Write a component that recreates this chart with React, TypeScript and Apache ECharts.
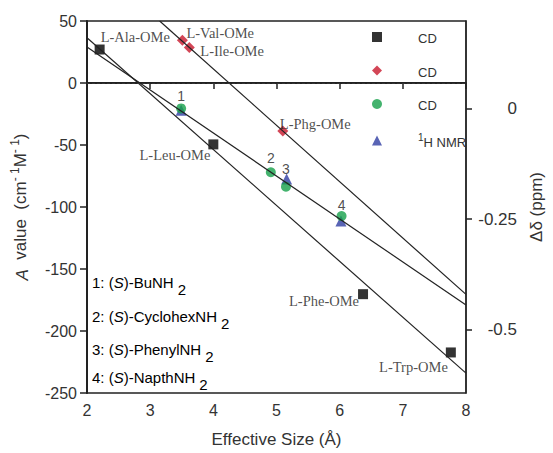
import React, { useEffect, useRef } from "react";
import * as echarts from "echarts";

// ---- data ----
const blackNames = ["L-Ala-OMe", "L-Leu-OMe", "L-Phe-OMe", "L-Trp-OMe"];
const blackX = [2.2, 4.0, 6.37, 7.76];
const blackY = [27, -49.5, -170.3, -217.3];

const redNames = ["L-Val-OMe", "L-Ile-OMe", "L-Phg-OMe"];
const redX = [3.51, 3.62, 5.1];
const redY = [34.5, 28.6, -38.8];

const greenNames = ["1", "2", "3", "4"];
const greenX = [3.49, 4.91, 5.15, 6.03];
const greenY = [-20.5, -72, -83.7, -107.3];

const nmrX = [3.49, 5.16, 6.02];
const nmrDelta = [-0.004, -0.159, -0.254];

// fitted straight lines: [x, y] end points
const fitRed = [[3.15, 50], [8, -170.5]];
const fitGreen = [[2, 29], [8, -179]];
const fitBlack = [[2, 36.5], [8, -234]];

const xTicks = [2, 3, 4, 5, 6, 7, 8];
const rightTicks = [0, -0.25, -0.5];
const amines = ["1: ", "2: ", "3: ", "4: "];
const amineNames = ["BuNH", "CyclohexNH", "PhenylNH", "NapthNH"];

// ---- layout/styling (not data) ----
const blackLabelPos = [
  { align: "left", offset: [1, -13] },
  { align: "right", offset: [-3, 11] },
  { align: "right", offset: [-4, 7] },
  { align: "right", offset: [-3, 15] },
];
const redLabelPos = [
  { align: "left", offset: [4, -7] },
  { align: "left", offset: [11, 3] },
  { align: "left", offset: [-3, -7] },
];
const greenLabelOffset = [[0, -12], [0, -14], [0, -18], [0, -11]];
const amineY = [283, 317, 350, 378];

const SERIF = "'Liberation Serif', 'Times New Roman', serif";
const SANS = "'Liberation Sans', Arial, sans-serif";

export default function App() {
  const ref = useRef<HTMLDivElement>(null);
  useEffect(() => {
    if (!ref.current) return;
    const chart = echarts.init(ref.current, undefined, { renderer: "svg" });

    const serifLabel = (name: string, pos: any) => ({
      show: true,
      position: "inside",
      formatter: name,
      align: pos.align,
      verticalAlign: "middle",
      offset: pos.offset,
      fontFamily: SERIF,
      fontSize: 14.5,
      color: "#222",
    });

    const legendNames = ["CD-black", "CD-red", "CD-green", "NMR"];

    const option: any = {
      animation: false,
      backgroundColor: "#fff",
      grid: {
        left: 87,
        right: 82,
        top: 21,
        bottom: 60,
        show: true,
        borderColor: "#222",
        borderWidth: 1.3,
      },
      legend: {
        data: legendNames.map((n) => ({ name: n })),
        orient: "vertical",
        left: 367,
        top: 27,
        itemWidth: 10,
        itemHeight: 10,
        itemGap: 20.5,
        selectedMode: false,
        formatter: (n: string) => (n === "NMR" ? "{sup|1}{t|H NMR}" : "{t|CD}"),
        textStyle: {
          rich: {
            t: {
              fontFamily: SANS,
              fontSize: 13,
              color: "#333",
              lineHeight: 16,
              verticalAlign: "bottom",
            },
            sup: {
              fontFamily: SANS,
              fontSize: 10,
              color: "#333",
              lineHeight: 16,
              verticalAlign: "top",
            },
          },
          padding: [0, 0, 0, 31],
        },
      },
      xAxis: {
        type: "value",
        min: 2,
        max: 8,
        interval: 1,
        name: "Effective Size (Å)",
        nameLocation: "middle",
        nameGap: 38,
        nameTextStyle: { fontFamily: SANS, fontSize: 17, color: "#333" },
        axisLine: { show: true, lineStyle: { color: "#222", width: 1.8 } },
        axisTick: { show: true, length: 6, lineStyle: { color: "#222", width: 1.5 } },
        axisLabel: {
          fontFamily: SANS,
          fontSize: 16,
          color: "#333",
          margin: 9,
          customValues: xTicks,
        },
        splitLine: { show: false },
      },
      yAxis: [
        {
          type: "value",
          min: -250,
          max: 50,
          interval: 50,
          position: "left",
          name: "{i|A}  value  (cm{sup|- 1}M{sup|- 1})",
          nameLocation: "middle",
          nameGap: 56,
          nameTextStyle: {
            rich: {
              i: { fontFamily: SANS, fontSize: 17, fontStyle: "italic", color: "#333", lineHeight: 22, verticalAlign: "bottom" },
              sup: { fontFamily: SANS, fontSize: 12, color: "#333", lineHeight: 22, verticalAlign: "top" },
            },
            fontFamily: SANS,
            fontSize: 17,
            color: "#333",
            lineHeight: 22,
            verticalAlign: "bottom",
          },
          axisLine: { show: true, lineStyle: { color: "#222", width: 2 } },
          axisTick: { show: true, length: 7, lineStyle: { color: "#222", width: 1.5 } },
          axisLabel: { fontFamily: SANS, fontSize: 16, color: "#333", margin: 10 },
          splitLine: { show: false },
        },
        {
          type: "value",
          min: -0.643,
          max: 0.198,
          position: "right",
          name: "Δδ (ppm)",
          nameLocation: "middle",
          nameGap: 62,
          nameRotate: 90,
          nameTextStyle: { fontFamily: SANS, fontSize: 17, color: "#333" },
          axisLine: { show: true, lineStyle: { color: "#222", width: 1.5 } },
          axisTick: { show: true, length: 6, customValues: rightTicks, lineStyle: { color: "#222", width: 1.5 } },
          axisLabel: {
            fontFamily: SANS,
            fontSize: 17,
            color: "#333",
            align: "right",
            margin: 51,
            customValues: rightTicks,
            formatter: (v: number) => (v === 0 ? "0" : String(v)),
          },
          splitLine: { show: false },
        },
      ],
      series: [
        {
          type: "line",
          data: fitRed,
          symbol: "none",
          lineStyle: { color: "#222", width: 1.2 },
          silent: true,
          markLine: {
            silent: true,
            symbol: "none",
            label: { show: false },
            lineStyle: { color: "#333", type: [3, 2], width: 1 },
            data: [{ yAxis: 0 }],
          },
        },
        { type: "line", data: fitGreen, symbol: "none", lineStyle: { color: "#222", width: 1.2 }, silent: true },
        { type: "line", data: fitBlack, symbol: "none", lineStyle: { color: "#222", width: 1.2 }, silent: true },
        {
          name: "CD-black",
          type: "scatter",
          symbol: "rect",
          symbolSize: 10,
          itemStyle: { color: "#000" },
          data: blackX.map((x, i) => ({
            value: [x, blackY[i]],
            label: serifLabel(blackNames[i], blackLabelPos[i]),
          })),
        },
        {
          name: "CD-red",
          type: "scatter",
          symbol: "diamond",
          symbolSize: 11,
          itemStyle: { color: "#c8182c" },
          data: redX.map((x, i) => ({
            value: [x, redY[i]],
            label: serifLabel(redNames[i], redLabelPos[i]),
          })),
        },
        {
          name: "NMR",
          type: "scatter",
          yAxisIndex: 1,
          symbol: "triangle",
          symbolSize: 11,
          itemStyle: { color: "#2f3da3" },
          data: nmrX.map((x, i) => [x, nmrDelta[i]]),
        },
        {
          name: "CD-green",
          type: "scatter",
          symbol: "circle",
          symbolSize: 10,
          itemStyle: { color: "#15a04a" },
          data: greenX.map((x, i) => ({
            value: [x, greenY[i]],
            label: {
              show: true,
              position: "inside",
              formatter: greenNames[i],
              align: "center",
              verticalAlign: "middle",
              offset: greenLabelOffset[i],
              fontFamily: SANS,
              fontSize: 14,
              color: "#222",
            },
          })),
        },
      ],
      graphic: amines.map((a, i) => ({
        type: "text",
        left: 92,
        top: amineY[i] - 10,
        style: {
          text: `{n|${a}(}{i|S}{n|)-${amineNames[i]}}{s|2}`,
          rich: {
            n: { fontFamily: SANS, fontSize: 15, color: "#333", lineHeight: 24, verticalAlign: "top", padding: [2, 0, 0, 0] },
            i: { fontFamily: SANS, fontSize: 15, fontStyle: "italic", color: "#333", lineHeight: 24, verticalAlign: "top", padding: [2, 0, 0, 0] },
            s: { fontFamily: SANS, fontSize: 15, color: "#333", lineHeight: 24, verticalAlign: "bottom", padding: [0, 0, 0, 4] },
          },
        },
      })),
    };

    chart.setOption(option);
    return () => chart.dispose();
  }, []);

  return <div ref={ref} style={{ width: 553, height: 453, position: "absolute", left: 0, top: 0 }} />;
}
